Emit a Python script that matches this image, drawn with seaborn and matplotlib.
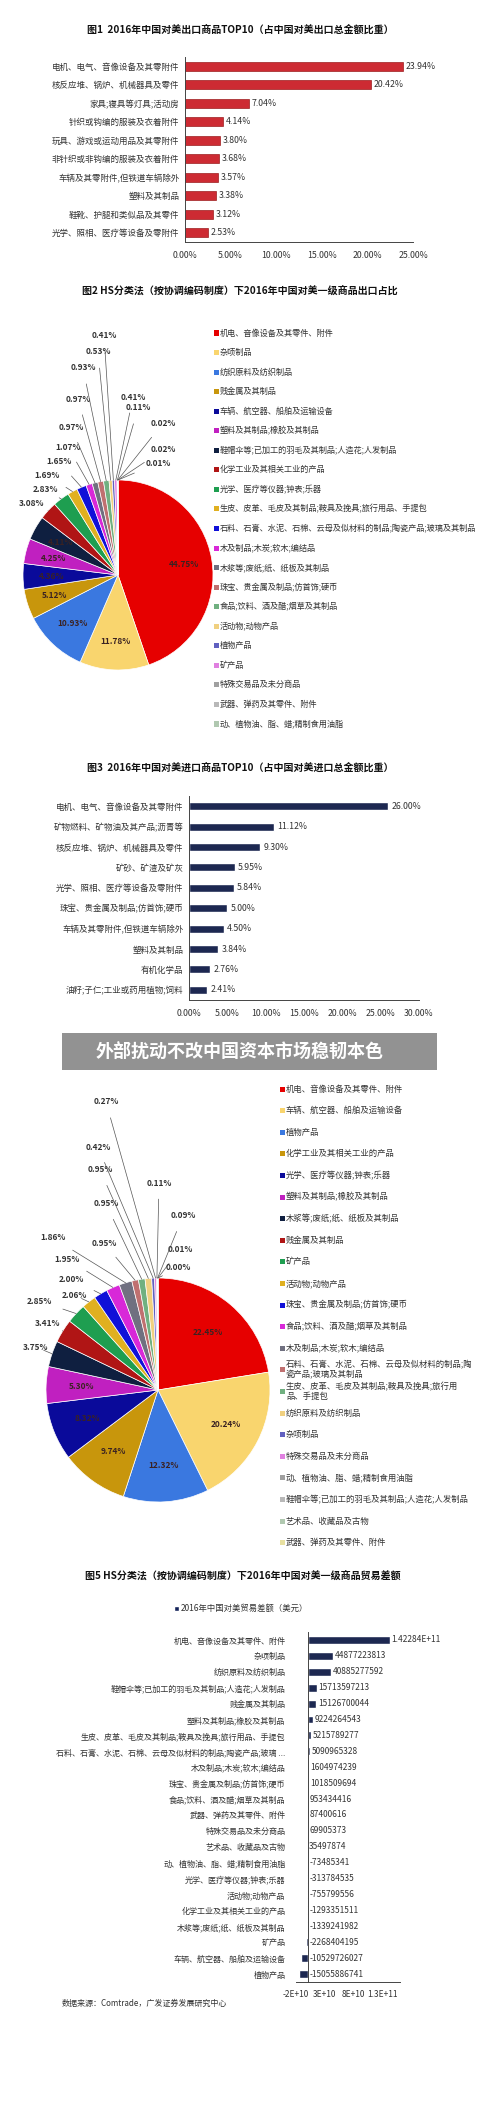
import numpy as np
import matplotlib
matplotlib.use("Agg")
import matplotlib.pyplot as plt
import matplotlib.ticker as mt
from matplotlib.patches import Rectangle
import seaborn as sns

sns.set_style("white")
plt.rcParams['font.family'] = ['Noto Sans CJK SC', 'DejaVu Sans']
plt.rcParams['axes.unicode_minus'] = False

# ---------------- data ----------------
f1_cats = ["电机、电气、音像设备及其零附件", "核反应堆、锅炉、机械器具及零件", "家具;寝具等灯具;活动房",
           "针织或钩编的服装及衣着附件", "玩具、游戏或运动用品及其零附件", "非针织或非钩编的服装及衣着附件",
           "车辆及其零附件,但铁道车辆除外", "塑料及其制品", "鞋靴、护腿和类似品及其零件", "光学、照相、医疗等设备及零附件"]
f1_vals = [23.94, 20.42, 7.04, 4.14, 3.80, 3.68, 3.57, 3.38, 3.12, 2.53]

f2_cats = ["机电、音像设备及其零件、附件", "杂项制品", "纺织原料及纺织制品", "贱金属及其制品",
           "车辆、航空器、船舶及运输设备", "塑料及其制品;橡胶及其制品", "鞋帽伞等;已加工的羽毛及其制品;人造花;人发制品",
           "化学工业及其相关工业的产品", "光学、医疗等仪器;钟表;乐器", "生皮、皮革、毛皮及其制品;鞍具及挽具;旅行用品、手提包",
           "石料、石膏、水泥、石棉、云母及似材料的制品;陶瓷产品;玻璃及其制品", "木及制品;木炭;软木;编结品",
           "木浆等;废纸;纸、纸板及其制品", "珠宝、贵金属及制品;仿首饰;硬币", "食品;饮料、酒及醋;烟草及其制品",
           "活动物;动物产品", "植物产品", "矿产品", "特殊交易品及未分商品", "武器、弹药及其零件、附件",
           "动、植物油、脂、蜡;精制食用油脂", "艺术品、收藏品及古物"]
f2_vals = [44.75, 11.78, 10.93, 5.12, 4.36, 4.25, 4.11, 3.08, 2.83, 1.69, 1.65, 1.07, 0.97, 0.97, 0.93,
           0.53, 0.41, 0.41, 0.11, 0.02, 0.02, 0.01]

f3_cats = ["电机、电气、音像设备及其零附件", "矿物燃料、矿物油及其产品;沥青等", "核反应堆、锅炉、机械器具及零件",
           "矿砂、矿渣及矿灰", "光学、照相、医疗等设备及零附件", "珠宝、贵金属及制品;仿首饰;硬币",
           "车辆及其零附件,但铁道车辆除外", "塑料及其制品", "有机化学品", "油籽;子仁;工业或药用植物;饲料"]
f3_vals = [26.00, 11.12, 9.30, 5.95, 5.84, 5.00, 4.50, 3.84, 2.76, 2.41]

f4_cats = ["机电、音像设备及其零件、附件", "车辆、航空器、船舶及运输设备", "植物产品", "化学工业及其相关工业的产品",
           "光学、医疗等仪器;钟表;乐器", "塑料及其制品;橡胶及其制品", "木浆等;废纸;纸、纸板及其制品", "贱金属及其制品",
           "矿产品", "活动物;动物产品", "珠宝、贵金属及制品;仿首饰;硬币", "食品;饮料、酒及醋;烟草及其制品",
           "木及制品;木炭;软木;编结品", "石料、石膏、水泥、石棉、云母及似材料的制品;陶\n瓷产品;玻璃及其制品",
           "生皮、皮革、毛皮及其制品;鞍具及挽具;旅行用\n品、手提包", "纺织原料及纺织制品", "杂项制品",
           "特殊交易品及未分商品", "动、植物油、脂、蜡;精制食用油脂", "鞋帽伞等;已加工的羽毛及其制品;人造花;人发制品",
           "艺术品、收藏品及古物", "武器、弹药及其零件、附件"]
f4_vals = [22.45, 20.24, 12.32, 9.74, 8.32, 5.30, 3.75, 3.41, 2.85, 2.06, 2.00, 1.95, 1.86, 0.95, 0.95,
           0.95, 0.42, 0.27, 0.11, 0.09, 0.01, 0.00]

f5_cats = ["机电、音像设备及其零件、附件", "杂项制品", "纺织原料及纺织制品", "鞋帽伞等;已加工的羽毛及其制品;人造花;人发制品",
           "贱金属及其制品", "塑料及其制品;橡胶及其制品", "生皮、皮革、毛皮及其制品;鞍具及挽具;旅行用品、手提包",
           "石料、石膏、水泥、石棉、云母及似材料的制品;陶瓷产品;玻璃 ...", "木及制品;木炭;软木;编结品",
           "珠宝、贵金属及制品;仿首饰;硬币", "食品;饮料、酒及醋;烟草及其制品", "武器、弹药及其零件、附件",
           "特殊交易品及未分商品", "艺术品、收藏品及古物", "动、植物油、脂、蜡;精制食用油脂", "光学、医疗等仪器;钟表;乐器",
           "活动物;动物产品", "化学工业及其相关工业的产品", "木浆等;废纸;纸、纸板及其制品", "矿产品",
           "车辆、航空器、船舶及运输设备", "植物产品"]
f5_vals = [142284000000, 44877223813, 40885277592, 15713597213, 15126700044, 9224264543, 5215789277,
           5090965328, 1604974239, 1018509694, 953434416, 87400616, 69905373, 35497874, -73485341,
           -313784535, -755799556, -1293351511, -1339241982, -2268404195, -10529726027, -15055886741]
f5_labels = ["1.42284E+11"] + [str(v) for v in f5_vals[1:]]
f5_ticks = [-2e10, 3e10, 8e10, 1.3e11]
f5_ticklabels = ["-2E+10", "3E+10", "8E+10", "1.3E+11"]

palette = ["#E60000", "#F9D56E", "#3A78E0", "#C8960C", "#0A0A9A", "#C020C0", "#0F1F40", "#B01515",
           "#1E9E50", "#E0B020", "#1010D8", "#D828D8", "#707080", "#C07070", "#70B080", "#F0D080",
           "#6060C0", "#E080E0", "#A0A0A0", "#B8B8B8", "#B0C8B0", "#E8E0A0"]

W, H = 500, 2104
fig = plt.figure(figsize=(W / 100, H / 100), dpi=100)
fig.patch.set_facecolor("white")


def add_ax(l, t, w, h):
    return fig.add_axes([l / W, 1 - (t + h) / H, w / W, h / H])


def ftext(x, y, s, **kw):
    fig.text(x / W, 1 - y / H, s, **kw)


TXT = "#333333"

# ---------------- Fig 1 ----------------
ftext(240, 30, "图1  2016年中国对美出口商品TOP10（占中国对美出口总金额比重）", ha="center", va="center",
      fontsize=7.2, fontweight="bold", color="#111")
ax1 = add_ax(185, 57, 228, 185)
sns.barplot(x=f1_vals, y=f1_cats, orient="h", color="#E8101A", width=0.5, edgecolor="#8a0000",
            linewidth=0.4, ax=ax1)
ax1.set_xlim(0, 25)
ax1.xaxis.set_major_locator(mt.MultipleLocator(5))
ax1.xaxis.set_major_formatter(mt.FuncFormatter(lambda v, p: f"{v:.2f}%"))
for i, v in enumerate(f1_vals):
    ax1.text(v + 0.3, i, f"{v:.2f}%", va="center", fontsize=6.3, color=TXT)

# ---------------- Fig 3 ----------------
ftext(240, 768, "图3  2016年中国对美进口商品TOP10（占中国对美进口总金额比重）", ha="center", va="center",
      fontsize=7.2, fontweight="bold", color="#111")
ax3 = add_ax(189, 796, 230, 204)
sns.barplot(x=f3_vals, y=f3_cats, orient="h", color="#14235A", width=0.4, ax=ax3)
ax3.set_xlim(0, 30)
ax3.xaxis.set_major_locator(mt.MultipleLocator(5))
ax3.xaxis.set_major_formatter(mt.FuncFormatter(lambda v, p: f"{v:.2f}%"))
for i, v in enumerate(f3_vals):
    ax3.text(v + 0.4, i, f"{v:.2f}%", va="center", fontsize=6.3, color=TXT)

for ax in (ax1, ax3):
    for s in ("top", "right"):
        ax.spines[s].set_visible(False)
    for s in ("left", "bottom"):
        ax.spines[s].set_color("#444")
        ax.spines[s].set_linewidth(0.7)
    ax.tick_params(axis="y", length=0, labelsize=6.1, labelcolor=TXT, pad=4)
    ax.tick_params(axis="x", length=3, labelsize=6.3, labelcolor=TXT, color="#444", direction="out")
    ax.set_yticks(np.arange(len(f1_vals)) - 0.5, minor=True)
    ax.tick_params(axis="y", which="minor", length=3, color="#444")
    ax.set_xlabel("")
    ax.set_ylabel("")


# ---------------- Pies ----------------
def draw_pie(cx, cy, r, vals, inside_min, inside_pct, label_pos):
    ax = add_ax(cx - r, cy - r, 2 * r, 2 * r)
    wedges, _ = ax.pie(vals, colors=palette[:len(vals)], startangle=90, counterclock=False,
                       wedgeprops=dict(edgecolor="white", linewidth=0.5))
    ax.set_xlim(-1, 1)
    ax.set_ylim(-1, 1)
    ax.set_aspect("equal")
    ax.axis("off")
    k = 0
    for w, v in zip(wedges, vals):
        ang = np.deg2rad((w.theta1 + w.theta2) / 2)
        if v >= inside_min:
            ax.text(inside_pct * np.cos(ang), inside_pct * np.sin(ang), f"{v:.2f}%", ha="center",
                    va="center", fontsize=6, fontweight="bold", color="#3a2222")
        else:
            tx, ty = label_pos[k]
            k += 1
            ax.annotate(f"{v:.2f}%", xy=(np.cos(ang), np.sin(ang)), xycoords="data",
                        xytext=(tx, H - ty), textcoords="figure pixels", ha="center", va="center",
                        fontsize=6, fontweight="bold", color="#333",
                        arrowprops=dict(arrowstyle="-", color="#555", lw=0.5, shrinkA=6, shrinkB=0),
                        annotation_clip=False)
    return ax


def draw_legend(x, y0, dy, cats, fs):
    for i, c in enumerate(cats):
        y = y0 + i * dy
        fig.patches.append(Rectangle(((x) / W, 1 - (y + 2.5) / H), 5 / W, 5 / H, transform=fig.transFigure,
                                     facecolor=palette[i], edgecolor="none"))
        ftext(x + 6, y, c, ha="left", va="center", fontsize=fs, color=TXT, linespacing=1.1)


ftext(240, 291, "图2 HS分类法（按协调编码制度）下2016年中国对美一级商品出口占比", ha="center", va="center",
      fontsize=7.2, fontweight="bold", color="#111")
f2_pos = [(32, 503), (45, 490), (47, 475), (59, 462), (68, 447), (71, 427), (78, 399), (83, 368),
          (98, 352), (104, 335), (133, 397), (138, 408), (163, 423), (163, 450), (158, 463)]
draw_pie(118, 575, 95, f2_vals, 3.5, 0.7, f2_pos)
draw_legend(214, 333, 19.55, f2_cats[:21], 5.9)

f4_pos = [(36, 1347), (48, 1323), (39, 1301), (74, 1295), (71, 1279), (67, 1259), (53, 1238),
          (104, 1243), (106, 1204), (100, 1170), (98, 1147), (106, 1102), (159, 1183), (183, 1216),
          (180, 1249), (178, 1268)]
draw_pie(158, 1390, 112, f4_vals, 5.0, 0.68, f4_pos)
draw_legend(280, 1089, 21.6, f4_cats, 6.0)

# banner
fig.patches.append(Rectangle((62 / W, 1 - 1070 / H), 375 / W, 37 / H, transform=fig.transFigure,
                             facecolor="#8c8c8c", edgecolor="none", alpha=0.95))
ftext(240, 1051, "外部扰动不改中国资本市场稳韧本色", ha="center", va="center", fontsize=13,
      fontweight="bold", color="white")

# ---------------- Fig 5 ----------------
ftext(243, 1576, "图5 HS分类法（按协调编码制度）下2016年中国对美一级商品贸易差额", ha="center", va="center",
      fontsize=7.2, fontweight="bold", color="#111")
fig.patches.append(Rectangle((174 / W, 1 - 1611 / H), 5 / W, 5 / H, transform=fig.transFigure,
                             facecolor="#14235A"))
ftext(181, 1608, "2016年中国对美贸易差额（美元）", ha="left", va="center", fontsize=6, color=TXT)
ax5 = add_ax(296, 1632, 104, 350)
sns.barplot(x=f5_vals, y=f5_cats, orient="h", color="#14235A", width=0.5, ax=ax5)
ax5.set_xlim(-2e10, 1.6e11)
ax5.set_xticks(f5_ticks)
ax5.set_xticklabels(f5_ticklabels)
for s in ("top", "right"):
    ax5.spines[s].set_visible(False)
ax5.spines["left"].set_position(("data", 0))
for s in ("left", "bottom"):
    ax5.spines[s].set_color("#444")
    ax5.spines[s].set_linewidth(0.7)
ax5.tick_params(axis="y", length=0, labelsize=5.8, labelcolor=TXT, pad=16)
ax5.set_yticks(np.arange(len(f5_vals)) - 0.5, minor=True)
ax5.tick_params(axis="y", which="minor", length=3, color="#444")
ax5.tick_params(axis="x", length=3, labelsize=6, labelcolor=TXT, color="#444", pad=3)
for i, (v, lab) in enumerate(zip(f5_vals, f5_labels)):
    ax5.text(max(v, 0) + 3e9, i, lab, va="center", fontsize=6, color=TXT)
ax5.set_xlabel("")
ax5.set_ylabel("")
ftext(62, 2003, "数据来源：Comtrade，广发证券发展研究中心", ha="left", va="center", fontsize=5.8, color=TXT)

fig.savefig("out.png", dpi=100, facecolor="white")
